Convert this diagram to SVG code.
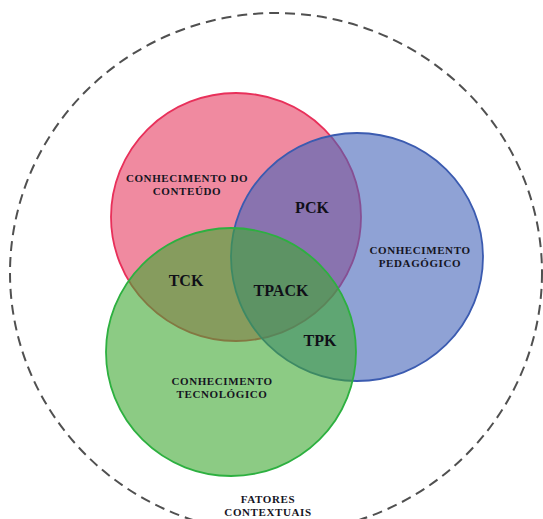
<svg xmlns="http://www.w3.org/2000/svg" width="543" height="519" viewBox="0 0 543 519">
<style>
.lbl{font-family:"Liberation Serif","Times New Roman",serif;font-weight:bold;font-size:11px;letter-spacing:0.6px;fill:#15151f;text-anchor:middle}
.big{font-family:"Liberation Serif","Times New Roman",serif;font-weight:bold;font-size:16px;fill:#101018;text-anchor:middle}
.c{fill-opacity:0.6;stroke-width:1.8}
</style>
<rect width="543" height="519" fill="#ffffff"/>
<g id="context">
<ellipse cx="276" cy="273" rx="266" ry="260" fill="none" stroke="#505050" stroke-width="2" stroke-dasharray="10 6"/>
<text class="lbl" x="268" y="503">FATORES</text>
<text class="lbl" x="268" y="516">CONTEXTUAIS</text>
</g>
<g id="content">
<ellipse class="c" cx="236" cy="217" rx="125" ry="124" fill="#e63c61" stroke="#e8305a"/>
</g>
<g id="pedagogy">
<ellipse class="c" cx="357" cy="257" rx="126" ry="124" fill="#4464b9" stroke="#3b5bb0"/>
</g>
<g id="technology">
<ellipse class="c" cx="231" cy="352" rx="125" ry="124" fill="#3fa832" stroke="#2db040"/>
</g>
<g id="labels">
<text class="lbl" x="187" y="181.5">CONHECIMENTO DO</text>
<text class="lbl" x="187" y="194.5">CONTEÚDO</text>
<text class="lbl" x="420" y="253.5">CONHECIMENTO</text>
<text class="lbl" x="420" y="266.5">PEDAGÓGICO</text>
<text class="lbl" x="222" y="384.5">CONHECIMENTO</text>
<text class="lbl" x="222" y="397.5">TECNOLÓGICO</text>
<text class="big" x="312" y="213">PCK</text>
<text class="big" x="186" y="286">TCK</text>
<text class="big" x="281" y="296">TPACK</text>
<text class="big" x="320" y="346">TPK</text>
</g>
</svg>
